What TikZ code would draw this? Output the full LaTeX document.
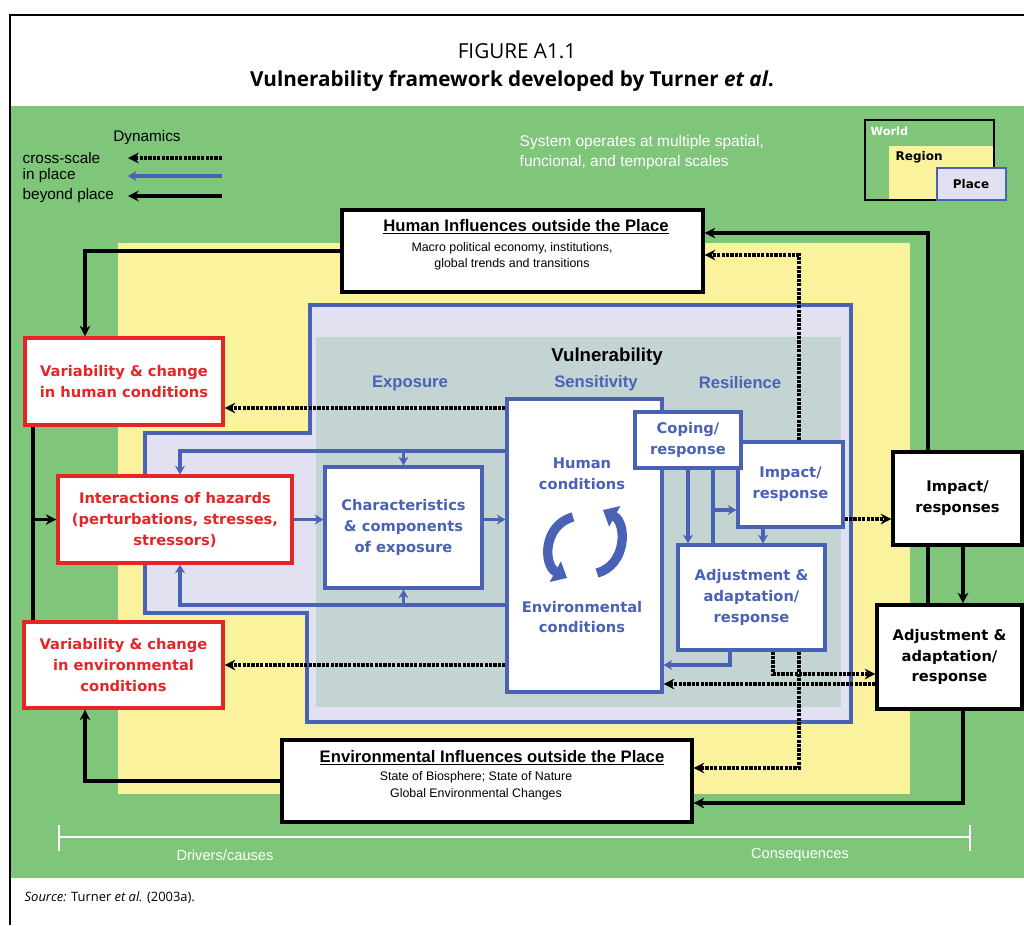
\documentclass[tikz,border=0pt]{standalone}
\usepackage{fontspec}
\setmainfont{Liberation Sans}
\newfontfamily\vfont{DejaVu Sans}
\newfontfamily\ofont{Open Sans}
\usepackage{tikz}
\usetikzlibrary{arrows.meta}
\usetikzlibrary{calc}
\definecolor{fgreen}{HTML}{7FC67A}
\definecolor{fyellow}{HTML}{FAF29C}
\definecolor{flav}{HTML}{E1E1F1}
\definecolor{fgray}{HTML}{C4D4D3}
\definecolor{fblue}{HTML}{4A62B6}
\definecolor{fred}{HTML}{E42626}
\tikzset{
    sz/.style 2 args={minimum width=#1*0.75pt,minimum height=#2*0.75pt},
    plainbox/.style={fill=white,line width=2.4pt,inner sep=0pt,align=center,font=\vfont\bfseries\fontsize{11}{15.7}\selectfont},
    redbox/.style={plainbox,draw=fred,text=fred},
    bluebox/.style={plainbox,draw=fblue,text=fblue},
    blackbox/.style={plainbox,draw=black},
    crossarr/.style={line width=2.6pt,dash pattern=on 2.4pt off 0.9pt,-{Stealth[length=8pt,width=8pt]}},
    placeline/.style={fblue,line width=2.6pt},
    placearr/.style={placeline,-{Stealth[length=6.5pt,width=7.5pt]}},
    beyondline/.style={line width=2.8pt},
    beyondarr/.style={beyondline,-{Stealth[length=8pt,width=8pt]}},
    cyc/.style={fblue,line width=7pt,-{Triangle[length=10pt,width=17pt]}}
}
\begin{document}
\begin{tikzpicture}[x=0.75pt,y=-0.75pt]
\useasboundingbox (0,0) rectangle (1024,925);
% backgrounds: world, region, place
\fill[fgreen] (10,106) rectangle (1024,878);
\fill[fyellow] (118,243) rectangle (910,794);
\filldraw[fill=flav,draw=fblue,line width=2.4pt] (310,305) -- (851,305) -- (851,722) -- (307,722) -- (307,613) -- (145,613) -- (145,433) -- (310,433) -- cycle;
\fill[fgray] (316,337) rectangle (841,707);
\draw[line width=0.8pt] (10,925) -- (10,15) -- (1024,15);

% title and source
\node[font=\ofont\fontsize{15.5}{18}\selectfont] (fig) at (517,51) {FIGURE A1.1};
\node[font=\ofont\bfseries\fontsize{15.5}{18}\selectfont] (figt) at (512,81) {Vulnerability framework developed by Turner \textit{et al}.};
\node[anchor=west,font=\ofont\fontsize{9.7}{11}\selectfont] (src) at (20,898) {\textit{Source:} Turner \textit{et al.} (2003a).};

% legend
\node[font=\fontsize{11.5}{13}\selectfont] (dyn) at (147,138) {Dynamics};
\foreach \yy/\nm/\txt/\sty in {158/cs/cross-scale/crossarr, 176/ip/in place/placearr, 196/bp/beyond place/beyondarr}{
    \node[anchor=west,font=\fontsize{11.5}{13}\selectfont] (\nm txt) at (18,\yy) {\txt};
    \coordinate (\nm s) at (222,\yy);
    \coordinate (\nm e) at (128,\yy);
    \draw[\sty] (\nm s) -- (\nm e);
}
\node[anchor=west,align=left,text=white,font=\fontsize{11.6}{15}\selectfont] (sysop) at (515,152) {System operates at multiple spatial,\\funcional, and temporal scales};
\filldraw[fill=fgreen,draw=black,line width=1.5pt] (865,120) rectangle (994,200);
\fill[fyellow] (889,146) rectangle (993,199);
\filldraw[fill=flav,draw=fblue,line width=2pt] (937,168) rectangle (1006,200);
\node[anchor=west,text=white,font=\vfont\bfseries\fontsize{8.5}{10}\selectfont] (world) at (866,131) {World};
\node[anchor=west,font=\vfont\bfseries\fontsize{9}{10}\selectfont] (region) at (891,157) {Region};
\node[font=\vfont\bfseries\fontsize{9}{10}\selectfont] (place) at (971,184) {Place};

% influences outside the place
\node[blackbox,sz={361}{82}] (humaninf) at (522.5,251) {};
\node[font=\bfseries\fontsize{12.5}{15}\selectfont] (humaninft) at (526,227) {\underline{Human Influences outside the Place}};
\node[align=center,font=\fontsize{9.3}{12}\selectfont] (humaninfs) at (512,256) {Macro political economy, institutions,\\global trends and transitions};
\node[blackbox,sz={410}{82}] (envinf) at (487,781) {};
\node[font=\bfseries\fontsize{12.5}{15}\selectfont] (envinft) at (492,758) {\underline{Environmental Influences outside the Place}};
\node[align=center,font=\fontsize{9.3}{12.7}\selectfont] (envinfs) at (476,785.5) {State of Biosphere; State of Nature\\Global Environmental Changes};

% drivers
\node[redbox,sz={198}{87}] (varhum) at (124,381.5) {Variability \& change\\in human conditions};
\node[redbox,sz={234}{87}] (hazards) at (175,519.5) {Interactions of hazards\\(perturbations, stresses,\\stressors)};
\node[redbox,sz={199}{86}] (varenv) at (123.5,665) {Variability \& change\\in environmental\\conditions};

% vulnerability
\node[font=\bfseries\fontsize{14}{16}\selectfont] (vuln) at (607,357) {Vulnerability};
\node[text=fblue,font=\bfseries\fontsize{12.5}{15}\selectfont] (expo) at (410,383) {Exposure};
\node[text=fblue,font=\bfseries\fontsize{12.5}{15}\selectfont] (sens) at (596,383) {Sensitivity};
\node[text=fblue,font=\bfseries\fontsize{12.5}{15}\selectfont] (resil) at (740,383) {Resilience};
\node[bluebox,sz={157}{121}] (charexp) at (403.5,527.5) {Characteristics\\\& components\\of exposure};
\node[bluebox,sz={155}{293}] (humenv) at (584.5,545.5) {};
\node[text=fblue,align=center,font=\vfont\bfseries\fontsize{11}{15.7}\selectfont] (humtxt) at (582,474) {Human\\conditions};
\node[text=fblue,align=center,font=\vfont\bfseries\fontsize{11}{15.7}\selectfont] (envtxt) at (582,617) {Environmental\\conditions};
\draw[cyc] (573,517) .. controls (543,525) and (543,565) .. (567,578);
\draw[cyc] (597,573) .. controls (627,565) and (627,523) .. (603,510);
\node[bluebox,sz={105}{85}] (impactin) at (790.5,484.5) {Impact/\\response};
\node[bluebox,sz={106}{56}] (coping) at (688,440) {Coping/\\response};
\node[bluebox,sz={147}{105}] (adjin) at (751.5,597.5) {Adjustment \&\\adaptation/\\response};

% consequences
\node[blackbox,sz={129}{93}] (impactout) at (957.5,498.5) {Impact/\\responses};
\node[blackbox,sz={145}{104}] (adjout) at (949.5,657) {Adjustment \&\\adaptation/\\response};

% beyond place
\draw[beyondarr] (humaninf.west) -| ($(varhum.north)+(-39,0)$);
\coordinate (lt) at ($(varhum.south)+(-91,0)$);
\draw[beyondline] (lt) -- ($(varenv.north)+(-90.5,0)$);
\draw[beyondarr] (lt |- hazards.west) -- (hazards.west);
\draw[beyondarr] (envinf.west) -| ($(varenv.south)+(-38.5,0)$);
\draw[beyondline] ($(adjout.north)+(-21.5,0)$) -- ($(impactout.south)+(-29.5,0)$);
\draw[beyondarr] ($(impactout.north)+(-29.5,0)$) |- ($(humaninf.east)+(0,-18)$);
\draw[beyondarr] ($(impactout.south)+(5.5,0)$) -- ($(adjout.north)+(13.5,0)$);
\draw[beyondarr] ($(adjout.south)+(13.5,0)$) |- ($(envinf.east)+(0,22)$);

% cross-scale
\coordinate (vhin) at ($(varhum.east)+(0,26.5)$);
\draw[crossarr] (humenv.west |- vhin) -- (vhin);
\draw[crossarr] (humenv.west |- varenv.east) -- (varenv.east);
\draw[crossarr] ($(impactin.north)+(8.5,0)$) |- ($(humaninf.east)+(0,4)$);
\coordinate (ioin) at ($(impactout.west)+(0,20.5)$);
\draw[crossarr] (impactin.east |- ioin) -- (ioin);
\draw[crossarr] ($(adjin.south)+(21.5,0)$) |- ($(adjout.west)+(0,17)$);
\coordinate (aoout) at ($(adjout.west)+(0,27)$);
\draw[crossarr] (aoout) -- (humenv.east |- aoout);
\draw[crossarr] ($(adjin.south)+(47.5,0)$) |- ($(envinf.east)+(0,-13)$);

% in place
\coordinate (tl) at ($(humenv.west)+(0,-94.5)$);
\draw[placearr] (tl) -| ($(hazards.north)+(5,0)$);
\draw[placearr] (tl -| charexp.north) -- (charexp.north);
\coordinate (bl) at ($(humenv.west)+(0,59.5)$);
\draw[placearr] (bl) -| ($(hazards.south)+(5,0)$);
\draw[placearr] (bl -| charexp.south) -- (charexp.south);
\draw[placearr] (hazards.east) -- (charexp.west |- hazards.east);
\draw[placearr] (charexp.east |- hazards.east) -- (humenv.west |- hazards.east);
\draw[placearr] (coping.south) -- (coping.south |- adjin.north);
\coordinate (cp2) at ($(coping.south)+(25,0)$);
\draw[placeline] (cp2) -- (cp2 |- adjin.north);
\coordinate (iin) at ($(impactin.west)+(0,25.5)$);
\draw[placearr] (cp2 |- iin) -- (iin);
\coordinate (ib) at ($(impactin.south)+(-27.5,0)$);
\draw[placearr] (ib) -- (ib |- adjin.north);
\draw[placearr] ($(adjin.south)+(-21.5,0)$) |- ($(humenv.east)+(0,119.5)$);

% scale bar
\draw[white,line width=1.1pt] (59,825) -- (59,851);
\draw[white,line width=1.1pt] (970,825) -- (970,851);
\draw[white,line width=1.1pt] (59,837) -- (970,837);
\node[text=white,font=\fontsize{11}{13}\selectfont] (drv) at (225,855) {Drivers/causes};
\node[text=white,font=\fontsize{11}{13}\selectfont] (cons) at (800,855) {Consequences};
\end{tikzpicture}
\end{document}
